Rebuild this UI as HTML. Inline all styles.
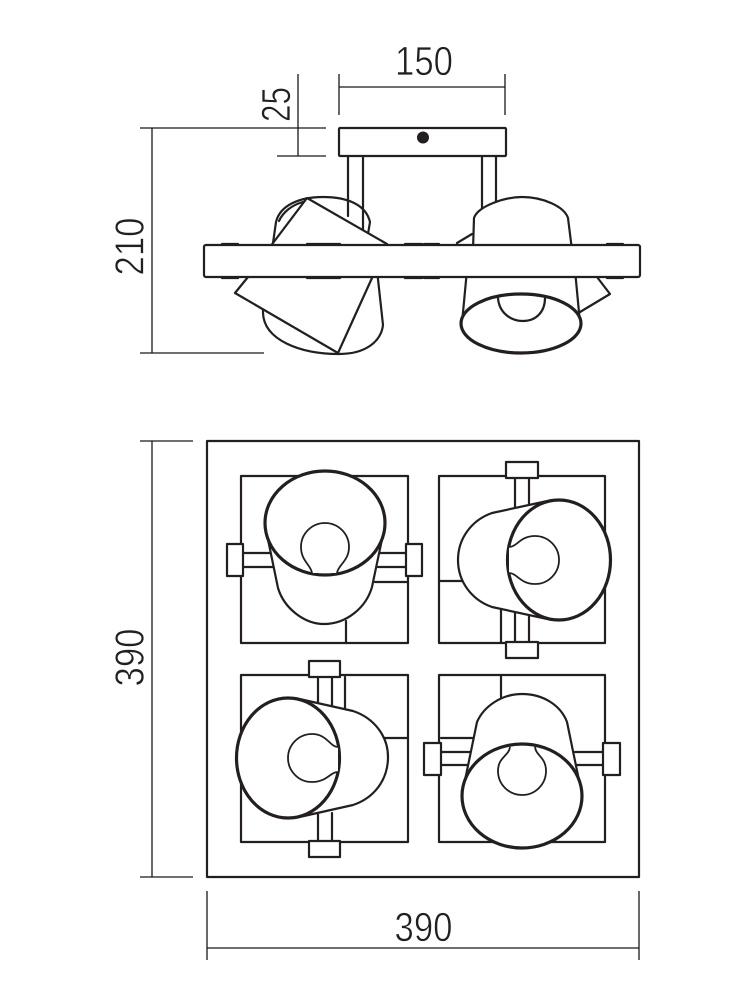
<!DOCTYPE html>
<html><head><meta charset="utf-8"><style>
html,body{margin:0;padding:0;background:#fff;width:750px;height:1000px;overflow:hidden}
svg{display:block}
text{font-family:"Liberation Sans Narrow","Liberation Sans",sans-serif;font-size:41px;fill:#231f20;stroke:#fff;stroke-width:.7;paint-order:normal;text-anchor:middle}
.d{stroke:#1a1718;stroke-width:1.3;fill:none}
.s{stroke:#231f20;stroke-width:2.2;fill:#fff;stroke-linejoin:round;stroke-linecap:round}
.n{stroke:#231f20;stroke-width:2.2;fill:none;stroke-linecap:round;stroke-linejoin:round}
.e{stroke:#231f20;stroke-width:3.2;fill:#fff}
.b{stroke:#231f20;stroke-width:1.8;fill:#fff}
</style></head><body>
<svg width="750" height="1000" viewBox="0 0 750 1000" xmlns="http://www.w3.org/2000/svg">
<!-- dimensions -->
<path class="d" d="M339 74V115M505 74V115M339 87H505M298 74V156M140 128H326M277 156H326M152 128V353M140 353H264M152 441V877M140 441H193M140 877H193M207 891V960M639 891V960M207 948H639"/>
<text x="424" y="75" textLength="58" lengthAdjust="spacingAndGlyphs">150</text>
<text transform="translate(290,104.5) rotate(-90)" textLength="35" lengthAdjust="spacingAndGlyphs">25</text>
<text transform="translate(143.5,246.5) rotate(-90)" textLength="58" lengthAdjust="spacingAndGlyphs">210</text>
<text transform="translate(143.5,657.5) rotate(-90)" textLength="58" lengthAdjust="spacingAndGlyphs">390</text>
<text x="423.5" y="941" textLength="58" lengthAdjust="spacingAndGlyphs">390</text>

<!-- front view -->
<path class="n" d="M273 243L276 222C280 205 300 197 323 197C348 197 366 205 370 222L367 240M279 221C283 212 292 205 303 202"/>
<path class="n" d="M348 156V216M363 156V232M482 156V210M496 156V205"/>
<rect class="s" x="339" y="128" width="167" height="28" rx="1"/>
<circle cx="423" cy="137.500" r="6" fill="#231f20"/>
<path class="s" d="M263 300V313C264 340 300 354 339 354C365 354 381 342 383 325L377 270H263Z"/>
<polygon class="s" points="307,198 387,244 372,278 338,353 235,293 248,277 273,243"/>
<path class="n" d="M457 243L472 234M597 277L610 294L580 312"/>
<path class="s" d="M473 250L474 218C478 206 505 197 522 197C542 197 564 206 568 218L572 250Z"/>
<path class="s" d="M467 270L462 323H580L575 270Z"/>
<ellipse class="e" cx="521" cy="323.500" rx="60" ry="29.500"/>
<path class="n" d="M498 298C499 312 510 321 523 321C536 321 545 312 545 298"/>
<path class="n" stroke-width="3" d="M222 244H238M307 244H340M405 244H422M424 244H439M607 244H623M222 278H238M307 278H340M405 278H422M424 278H439M607 278H623"/>
<rect class="s" x="204" y="245" width="436" height="32" rx="2"/>

<!-- plan view -->
<rect class="n" x="207" y="441" width="432" height="436" stroke-linecap="butt"/>
<rect class="n" x="241" y="476" width="167" height="167"/>
<rect class="n" x="439" y="476" width="166" height="167"/>
<rect class="n" x="241" y="675" width="167" height="167"/>
<rect class="n" x="439" y="675" width="166" height="167"/>

<!-- Q1 -->
<path class="n" d="M243 553H272M243 567H274M380 553H406M378 567H406M375 582H408M346 621V643"/>
<rect class="s" x="227" y="544" width="16" height="32"/>
<rect class="s" x="406" y="544" width="16" height="32"/>
<path class="s" d="M265 525L278 588C284 608 304 624 324 624C346 624 366 608 372 587L385 525Z"/>
<ellipse class="e" cx="325" cy="523" rx="60" ry="52"/>
<path class="b" d="M312 573C311 565 301 561 301 547A24 24 0 0 1 349 547C349 561 338 565 337 573"/>

<!-- Q2 -->
<path class="n" d="M515 478V507M529 478V504M501 608V642M515 610V642M529 612V642M439 581H462"/>
<rect class="s" x="506" y="462" width="32" height="16"/>
<rect class="s" x="506" y="642" width="32" height="16"/>
<path class="s" d="M552 500L492 513C472 520 458 538 458 560C458 582 472 600 492 607L552 620Z"/>
<ellipse class="e" cx="559" cy="560" rx="51.500" ry="60"/>
<path class="b" d="M509 547C517 547 520 536 535 536A24 24 0 0 1 535 584C520 584 517 573 509 573"/>

<!-- Q3 -->
<path class="n" d="M318 677V708M332 677V708M345 677V712M318 813V841M332 813V841M385 738H408"/>
<rect class="s" x="309" y="661" width="31" height="16"/>
<rect class="s" x="309" y="841" width="31" height="16"/>
<path class="s" d="M295 698L353 711C374 718 388 736 388 757C388 780 374 798 353 805L295 818Z"/>
<ellipse class="e" cx="288" cy="758" rx="51.500" ry="60"/>
<path class="b" d="M338 747C330 747 327 734 312 734A24 24 0 0 0 312 782C327 782 330 772 338 772"/>

<!-- Q4 -->
<path class="n" d="M441 738H474M441 752H472M441 765H470M575 752H603M577 765H603M501 675V697"/>
<rect class="s" x="424" y="743" width="17" height="32"/>
<rect class="s" x="603" y="743" width="17" height="32"/>
<path class="s" d="M463 790L477 722C484 706 502 694 522 694C544 694 561 706 567 722L581 790Z"/>
<ellipse class="e" cx="522" cy="796" rx="60" ry="52"/>
<path class="b" d="M510 747C509 756 498 757 498 771A24 24 0 0 0 546 771C546 757 536 756 535 747"/>
</svg>
</body></html>
